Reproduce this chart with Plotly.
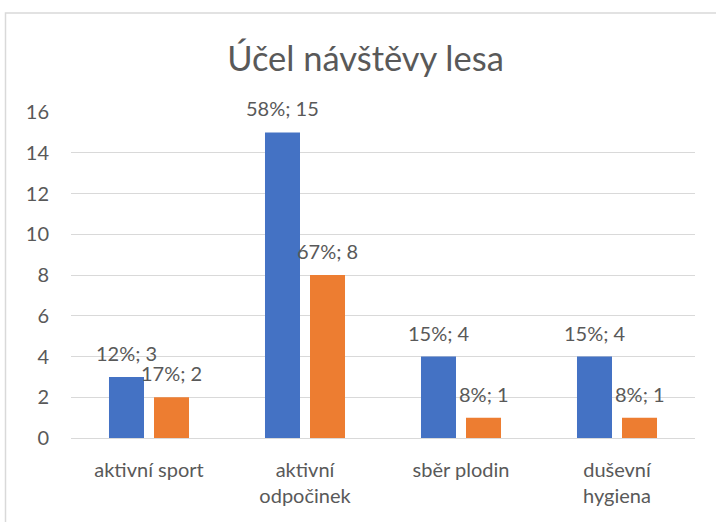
import plotly.graph_objects as go

categories = ["aktivní sport", "aktivní<br>odpočinek", "sběr plodin", "duševní<br>hygiena"]
series1_values = [3, 15, 4, 4]
series1_pct = [12, 58, 15, 15]
series2_values = [2, 8, 1, 1]
series2_pct = [17, 67, 8, 8]
y_ticks = [0, 2, 4, 6, 8, 10, 12, 14, 16]

FONT = "Lato"
TXT = "#595959"
LBL = 20

fig = go.Figure()
series = [(series1_values, series1_pct, "#4472C4", -22.5),
          (series2_values, series2_pct, "#ED7D31", 22.5)]
annotations = []
for vals, pct, col, shift in series:
    fig.add_trace(go.Bar(
        x=categories, y=vals, marker=dict(color=col, line=dict(width=0)),
        showlegend=False, hoverinfo="x+y",
    ))
    for c, v, p in zip(categories, vals, pct):
        annotations.append(dict(
            x=c, y=v, xref="x", yref="y", text=f"{p}%; {v}", showarrow=False,
            xanchor="center", yanchor="middle", xshift=shift, yshift=24,
            font=dict(family=FONT, size=LBL, color=TXT)))

fig.update_layout(
    width=716, height=522, autosize=False,
    margin=dict(l=71, r=21, t=112, b=84),
    paper_bgcolor="white", plot_bgcolor="white",
    barmode="group", bargap=0.423, bargroupgap=0.222,
    title=dict(text="Účel návštěvy lesa", x=365.5 / 716, xanchor="center",
               y=1 - 59 / 522, yanchor="middle",
               font=dict(family=FONT, size=34.5, color=TXT)),
    font=dict(family=FONT, color=TXT),
    annotations=annotations,
    shapes=[dict(type="rect", xref="paper", yref="paper",
                 x0=(5.5 - 71) / 624, x1=(740 - 71) / 624,
                 y0=(438 - 540) / 326, y1=(438 - 13) / 326,
                 line=dict(color="#D9D9D9", width=1.5), fillcolor="rgba(0,0,0,0)",
                 layer="below")],
)
fig.update_yaxes(range=[0, 16], tickvals=y_ticks, showgrid=True, gridcolor="#D9D9D9",
                 gridwidth=1.4, zeroline=False, showline=False,
                 tickfont=dict(family=FONT, size=LBL, color=TXT), ticklabelstandoff=21)
fig.update_xaxes(showline=True, linecolor="#D9D9D9", linewidth=1.4,
                 tickfont=dict(family=FONT, size=LBL, color=TXT), ticklabelstandoff=14)

fig.write_html("out.html", config={"displayModeBar": False},
               post_script="document.body.style.margin='0';")
